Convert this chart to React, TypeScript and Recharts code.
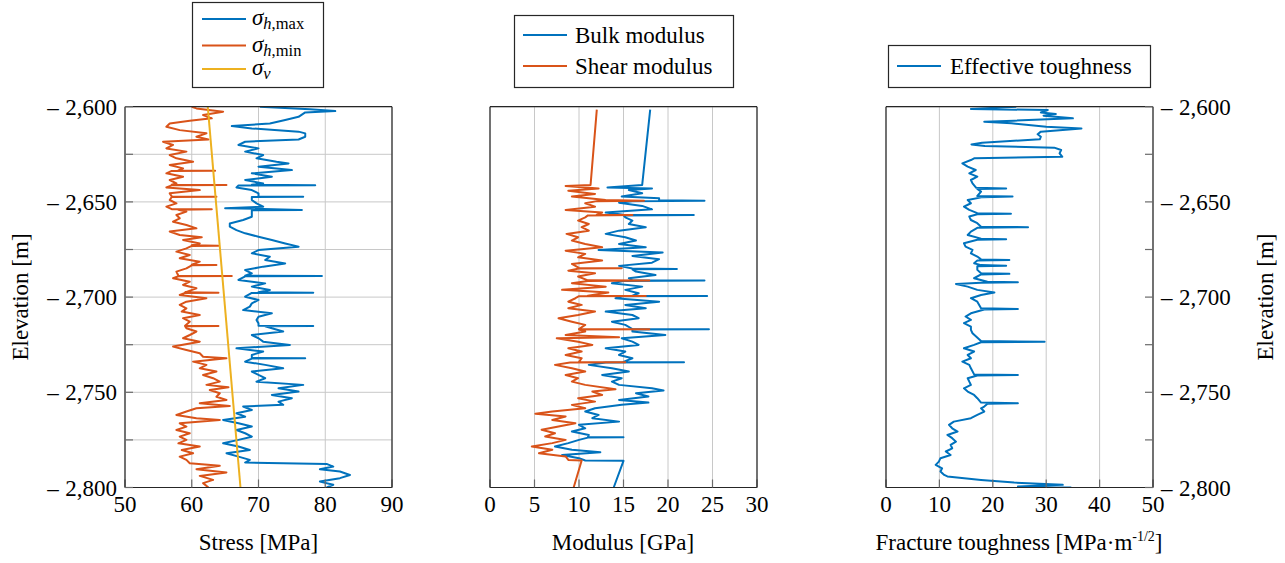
import React from 'react';
import { LineChart, Line, XAxis, YAxis, CartesianGrid } from 'recharts';

const FONT = '"Liberation Serif", "Tinos", "Times New Roman", "Noto Serif", "DejaVu Serif", serif';
const BLUE = '#0072BD';
const ORANGE = '#D95319';
const YELLOW = '#EDB120';
const GRID = '#c8c8c8';
const FRAME = '#262626';
const TICK = '#6a6a6a';

// ---------- tick values ----------
const elevationTicks = [-2800, -2775, -2750, -2725, -2700, -2675, -2650, -2625, -2600];
const stressTicks = [50, 60, 70, 80, 90];
const modulusTicks = [0, 5, 10, 15, 20, 25, 30];
const toughnessTicks = [0, 10, 20, 30, 40, 50];

// ---------- series: [elevation (m), value] ----------
const sigmaHmax: [number, number][] = [
  [-2600, 70.2], [-2601.4, 77.7], [-2602.3, 81.5], [-2603, 77], [-2605.3, 76], [-2607, 74], [-2608.8, 71.7],
  [-2610.2, 66], [-2611.4, 69], [-2613.1, 76], [-2614, 77], [-2615.8, 77], [-2617.2, 76], [-2618.4, 68],
  [-2620.1, 67], [-2621.9, 70], [-2623.6, 68], [-2625.4, 70.7], [-2627.1, 69.7], [-2628.9, 72.7], [-2629.8, 74.5],
  [-2631.5, 70], [-2633.3, 75], [-2635, 69], [-2636.8, 72], [-2638.5, 68], [-2640.3, 70.7], [-2641, 69],
  [-2641.2, 78.5], [-2641.4, 67], [-2642.4, 66.7], [-2643.8, 69], [-2645.5, 70], [-2647.1, 70], [-2647.25, 76.7],
  [-2647.4, 69], [-2649, 69], [-2650.8, 69.7], [-2652.5, 70.7], [-2653.3, 65], [-2654.2, 76.5], [-2654.4, 69],
  [-2656, 69], [-2657.8, 69], [-2659.5, 67.7], [-2661.3, 65.7], [-2663, 65.7], [-2664.8, 66.7], [-2666.5, 68],
  [-2668.3, 70], [-2670, 72], [-2671.8, 74], [-2673.5, 76], [-2675.3, 70], [-2677, 69], [-2678.8, 71.7],
  [-2680.5, 71], [-2682.3, 74], [-2684, 70.7], [-2685.8, 68], [-2687.5, 69], [-2688.8, 68], [-2688.9, 79.5],
  [-2689.1, 68], [-2691, 67], [-2692.8, 71], [-2694.5, 69], [-2696.3, 71.7], [-2697.5, 70], [-2697.65, 78.2],
  [-2697.8, 69], [-2699.8, 68], [-2701.5, 70], [-2703.3, 69], [-2705, 68.7], [-2706.8, 67.7], [-2708.5, 72],
  [-2710.3, 70], [-2712, 69.7], [-2713.8, 70], [-2715, 70], [-2715.15, 78.2], [-2715.3, 71], [-2716.4, 72],
  [-2718.1, 73.7], [-2719.9, 69], [-2721.6, 70], [-2723.4, 70.7], [-2725.1, 74.7], [-2726.9, 66.7], [-2728.6, 70.7],
  [-2730.4, 69], [-2732, 69], [-2732.1, 77], [-2732.3, 69], [-2733.9, 68], [-2735.6, 71], [-2737.4, 73.7],
  [-2739.1, 69], [-2740.9, 70], [-2742.6, 71], [-2744.4, 69.7], [-2746.1, 76.7], [-2747.9, 73], [-2749.6, 76],
  [-2751.4, 72], [-2753.1, 75], [-2754.9, 73], [-2756.6, 73.7], [-2757.5, 67.7], [-2759.3, 69], [-2761, 66.7],
  [-2762.8, 68], [-2764.5, 64.7], [-2766.3, 67], [-2768, 69], [-2769.8, 66.7], [-2771.5, 68], [-2773.3, 69],
  [-2775, 67], [-2776.8, 64.7], [-2778.5, 67], [-2780.3, 68.7], [-2782, 65.2], [-2783.8, 67], [-2785.5, 68.7],
  [-2786.9, 68], [-2787.6, 80.2], [-2789, 81.2], [-2790.4, 79.2], [-2791.6, 82.2], [-2793.4, 83.7], [-2795.1, 82.2],
  [-2796.9, 79.2], [-2798.6, 81.2], [-2800, 80.2],
];

const sigmaHmin: [number, number][] = [
  [-2600, 60], [-2600.9, 60.7], [-2602.6, 64.7], [-2604.4, 61.7], [-2606.1, 63], [-2607.4, 59.7], [-2608.8, 56.7],
  [-2610.5, 56.2], [-2612.3, 58.2], [-2614, 62.2], [-2615.8, 60.7], [-2617.2, 62.5], [-2618.4, 55.7], [-2620.1, 57.2],
  [-2621.9, 56.2], [-2623.6, 59.2], [-2625.4, 56.7], [-2627.1, 57.7], [-2628.9, 60.2], [-2630.6, 56.7], [-2632.4, 58.7],
  [-2633.5, 58], [-2633.6, 63.5], [-2633.75, 57], [-2635, 56.2], [-2636.8, 58.7], [-2638.5, 56.7], [-2640.3, 57.7],
  [-2641, 57], [-2641.1, 65.2], [-2641.3, 57], [-2642.4, 56.2], [-2643.8, 61.2], [-2645.5, 56.7], [-2647.1, 57],
  [-2647.25, 63.7], [-2647.4, 57], [-2649, 56.7], [-2650.8, 57.7], [-2652.5, 56.2], [-2653.8, 57], [-2653.9, 63],
  [-2654.1, 58], [-2655.1, 59.2], [-2656.9, 57.7], [-2658.6, 58.2], [-2660.4, 57.2], [-2662.1, 59.2], [-2663.9, 60.7],
  [-2665.6, 56.7], [-2667.4, 58.2], [-2668.6, 61.5], [-2670, 58.7], [-2671.8, 61.2], [-2672.8, 60], [-2673, 64],
  [-2673.1, 60], [-2674.4, 59.2], [-2676.1, 57.7], [-2677.9, 59.7], [-2679.6, 58.2], [-2681.4, 61.2], [-2683, 60],
  [-2683.1, 63.7], [-2683.3, 60], [-2684.9, 59.2], [-2686.6, 57.7], [-2688.8, 58], [-2688.9, 66], [-2689.05, 58],
  [-2690.1, 57.2], [-2691.9, 59.7], [-2693.6, 58.7], [-2695.4, 60.7], [-2697.5, 59], [-2697.65, 64], [-2697.8, 59],
  [-2698.9, 58.2], [-2700.6, 62.2], [-2702.4, 59.2], [-2704.1, 58.2], [-2705.9, 59.2], [-2707.6, 58.5], [-2709.4, 61.2],
  [-2711.1, 58.7], [-2712.9, 59.7], [-2715, 59], [-2715.15, 64], [-2715.3, 59], [-2716.4, 59.2], [-2718.1, 60.7],
  [-2719.9, 59.7], [-2721.6, 58.7], [-2723.4, 61.2], [-2726, 57.2], [-2727.8, 59.2], [-2729.5, 61.2], [-2731.3, 61.7],
  [-2732.1, 65.2], [-2733.9, 60.2], [-2735.6, 62.2], [-2737.4, 61.2], [-2739.1, 63.7], [-2740.9, 61.7], [-2742.6, 63.2],
  [-2744.4, 64.2], [-2746.1, 62.2], [-2747.4, 65.5], [-2748.8, 62.7], [-2750.5, 64.2], [-2752.3, 63.7], [-2754, 65.2],
  [-2755.8, 61.2], [-2757.2, 65.7], [-2758.4, 60.7], [-2760.1, 59.2], [-2761.9, 57.7], [-2763.6, 60.7], [-2764.5, 64.2],
  [-2766.3, 58.2], [-2768, 59.2], [-2769.8, 57.7], [-2771.5, 59.7], [-2773.3, 58.2], [-2775, 59.2], [-2776.8, 58],
  [-2778.5, 61.2], [-2780.3, 58.5], [-2782, 60.2], [-2783.8, 58.2], [-2785.5, 59.2], [-2787.3, 59.7], [-2788.6, 64.2],
  [-2790.4, 60.7], [-2792.1, 65.2], [-2793.9, 61.2], [-2796, 63.2], [-2797.7, 61.7], [-2800, 62.5],
];

const sigmaV: [number, number][] = [[-2600, 62.4], [-2800, 67.3]];

const bulkModulus: [number, number][] = [
  [-2601.5, 18], [-2641.1, 17.1], [-2642.4, 13.2], [-2642.9, 18.2], [-2643.8, 15.6], [-2645.5, 17.1], [-2647.2, 14.8],
  [-2648.1, 19], [-2649.1, 19], [-2649.34, 24.1], [-2649.6, 16], [-2650.4, 14.5], [-2652.1, 17.1], [-2653.9, 18.2],
  [-2655.6, 13], [-2656.7, 15], [-2656.87, 22.9], [-2657.1, 15], [-2658.1, 15.2], [-2659.8, 16], [-2661.6, 15.6],
  [-2663.3, 17.5], [-2665.1, 14.5], [-2666.8, 13], [-2668.6, 15.2], [-2670.3, 16.4], [-2672.1, 14.5], [-2673.8, 17.5],
  [-2675.2, 12.2], [-2676.6, 19.4], [-2678.4, 16], [-2680.1, 19], [-2681.9, 18.2], [-2683.6, 14.5], [-2685, 16],
  [-2685.2, 21], [-2685.4, 16], [-2686.6, 16.4], [-2688.4, 18.6], [-2690.1, 15.6], [-2691.2, 16], [-2691.34, 24.1],
  [-2691.5, 15], [-2692.7, 13.7], [-2694.5, 17.1], [-2696.2, 15.2], [-2698, 16.7], [-2699.25, 16], [-2699.4, 24.4],
  [-2699.55, 15], [-2700.6, 14.1], [-2702.4, 19], [-2704.1, 15.2], [-2705.9, 17.5], [-2707.6, 13], [-2709.4, 16],
  [-2711.1, 16.7], [-2712.9, 13.7], [-2714.6, 15.2], [-2716.75, 16], [-2716.9, 24.6], [-2717.05, 16], [-2718.1, 16],
  [-2719.9, 19.7], [-2721.6, 14.8], [-2723.4, 16], [-2725.1, 16.7], [-2726.9, 13], [-2728.6, 15.2], [-2730.4, 14.5],
  [-2732.1, 16], [-2734.05, 15], [-2734.2, 21.8], [-2734.35, 13], [-2735.6, 11.1], [-2737.4, 13.7], [-2739.1, 15.6],
  [-2740.9, 12.6], [-2742.6, 14.8], [-2744.4, 13.7], [-2746.1, 14.5], [-2747.9, 18.2], [-2749.1, 19.5], [-2750.5, 16.4],
  [-2752.2, 17.8], [-2754, 14.5], [-2755.4, 17.8], [-2756.6, 14.8], [-2758.4, 11.8], [-2760.1, 10.7], [-2761.9, 12.2],
  [-2763.6, 11.5], [-2765.4, 14.5], [-2767.1, 10], [-2768.9, 10.7], [-2770.6, 9.2], [-2772.4, 11.1], [-2773.5, 11],
  [-2773.6, 15], [-2773.8, 11], [-2775, 10], [-2776.7, 8.8], [-2778.5, 7.3], [-2780.2, 9.2], [-2781.5, 12.4],
  [-2782.9, 8.1], [-2784.6, 10], [-2785.8, 10.7], [-2786, 15], [-2800, 13.9],
];

const shearModulus: [number, number][] = [
  [-2601.5, 12], [-2641.1, 11.3], [-2641.6, 8.5], [-2642.9, 12.2], [-2644.1, 8.8], [-2645.8, 11.8], [-2647.2, 9.2],
  [-2649, 13], [-2649.34, 17.3], [-2649.6, 12], [-2650.7, 10.7], [-2652.5, 11.8], [-2654.2, 8.5], [-2655.6, 12.6],
  [-2656.7, 12], [-2656.87, 16], [-2657.1, 11], [-2658.1, 10.7], [-2659.8, 9.9], [-2661.6, 11.1], [-2663.3, 10.3],
  [-2665.1, 11.1], [-2666.8, 8.6], [-2668.6, 9.9], [-2670.3, 9.2], [-2672.1, 10.7], [-2673.8, 12.6], [-2675.6, 8.5],
  [-2677.3, 10.7], [-2679.1, 9.9], [-2680.8, 12.6], [-2682.6, 9.2], [-2684.7, 10], [-2684.86, 14.8], [-2685, 10],
  [-2686.1, 8.8], [-2687.5, 11.8], [-2689.2, 9.9], [-2691.2, 11], [-2691.34, 17.9], [-2691.5, 11], [-2692.7, 9.2],
  [-2694.5, 13], [-2696.2, 8.1], [-2697.6, 13.3], [-2699.25, 11], [-2699.4, 17.5], [-2699.55, 10], [-2700.6, 9.6],
  [-2702.4, 8.8], [-2704.1, 10.3], [-2705.9, 8.8], [-2707.6, 11.8], [-2709.4, 9.9], [-2711.1, 7.7], [-2712.9, 9.2],
  [-2714.6, 10.7], [-2716.75, 10], [-2716.9, 17.9], [-2717.05, 10], [-2718.1, 10.7], [-2719.9, 8.5], [-2721.1, 14.5],
  [-2721.6, 7.5], [-2723.4, 9.9], [-2725.1, 11.5], [-2726.9, 8.8], [-2728.6, 10.3], [-2730.4, 8.5], [-2732.1, 10.3],
  [-2734.05, 10], [-2734.2, 15.2], [-2734.35, 9], [-2735.6, 7.3], [-2737.4, 9.2], [-2739.1, 10.7], [-2740.9, 8.5],
  [-2742.6, 9.9], [-2744.4, 9.2], [-2746.1, 10.7], [-2748.4, 14.1], [-2749.6, 11.5], [-2751.4, 12.6], [-2753.1, 9.9],
  [-2754.9, 11.8], [-2756.6, 9.2], [-2758.4, 10.7], [-2760.1, 7], [-2761.3, 5.1], [-2762.7, 8.5], [-2764.5, 7],
  [-2766.2, 9.6], [-2768, 7.7], [-2769.7, 5.8], [-2771.5, 7.3], [-2773.2, 6.2], [-2775, 8.5], [-2776.7, 7],
  [-2778.5, 4.7], [-2780.2, 7], [-2782, 5.5], [-2783.7, 8.5], [-2785.5, 8.8], [-2785.8, 10.3], [-2800, 9.4],
];

const effectiveToughness: [number, number][] = [
  [-2600, 24.4], [-2601.2, 15.9], [-2601.75, 30.3], [-2603, 29], [-2603.85, 31.8], [-2604.7, 29.5], [-2606.1, 35],
  [-2607.35, 24], [-2607.9, 18.4], [-2608.75, 23.5], [-2610.5, 30], [-2611.4, 36.6], [-2613.1, 29], [-2614.5, 28.4],
  [-2615.75, 29], [-2617.15, 28.8], [-2618.9, 18], [-2619.8, 16], [-2620.65, 18.5], [-2621.5, 31.5], [-2622.75, 32.8],
  [-2624.5, 32.5], [-2626.25, 33], [-2627.1, 16.5], [-2628, 15.9], [-2629.75, 14.3], [-2631.5, 15.3], [-2633.25, 16.8],
  [-2635, 15.6], [-2636.75, 17.1], [-2638.5, 15.9], [-2640.25, 16.2], [-2642.6, 16.9], [-2642.9, 22.5], [-2643.2, 17.1],
  [-2644.6, 17.8], [-2646.9, 17.1], [-2647.2, 23.7], [-2647.5, 18.1], [-2649, 15.3], [-2650.7, 15.9], [-2652.5, 14.6],
  [-2654.2, 15.6], [-2655.9, 17.1], [-2656.2, 23.4], [-2656.5, 17.1], [-2657.7, 15.6], [-2659.5, 15.9], [-2661.2, 17.1],
  [-2663, 17.8], [-2663.3, 26.6], [-2663.6, 17.1], [-2665.6, 15.9], [-2667.4, 15.3], [-2669.3, 17.8], [-2669.6, 22.5],
  [-2669.9, 17.1], [-2671.7, 14.6], [-2673.5, 14.9], [-2675.2, 16.2], [-2677, 15.9], [-2678.7, 17.1], [-2680.2, 17.8],
  [-2680.5, 23.1], [-2680.8, 17.1], [-2682.2, 16.5], [-2683.2, 17.8], [-2683.5, 22.5], [-2683.8, 17.1], [-2685.7, 17.1],
  [-2687.5, 17.8], [-2687.8, 23.1], [-2688.1, 17.8], [-2690.1, 16.5], [-2691.9, 19], [-2692.2, 24.7], [-2692.5, 17.8],
  [-2693.1, 13.1], [-2694.5, 15.3], [-2696.2, 17.1], [-2697.6, 20.3], [-2698.9, 17.8], [-2700.6, 15.9], [-2702.4, 17.1],
  [-2705.9, 17.8], [-2706.2, 24.7], [-2706.5, 18.4], [-2708.5, 15.9], [-2710.2, 14.9], [-2712, 15.9], [-2713.7, 14.6],
  [-2715.5, 15.9], [-2717.2, 15.9], [-2719, 16.2], [-2723.1, 17.8], [-2723.4, 29.7], [-2723.7, 17.8], [-2725.1, 16.5],
  [-2726.9, 14.6], [-2728.6, 16.5], [-2730.4, 15.3], [-2732.1, 15.9], [-2733.9, 14.3], [-2735.6, 15.6], [-2737.4, 15.9],
  [-2740.6, 16.5], [-2740.9, 24.7], [-2741.2, 17.1], [-2742.6, 15.3], [-2744.4, 15.6], [-2746.1, 15.9], [-2747.9, 14.6],
  [-2749.6, 15.3], [-2751.4, 16.5], [-2753.1, 17.1], [-2755.4, 17.8], [-2755.7, 24.7], [-2756, 19], [-2757.5, 18.4],
  [-2758.4, 17.8], [-2760.1, 18.4], [-2761.9, 17.1], [-2763.6, 15.9], [-2765.4, 12.7], [-2767.1, 11.8], [-2768.9, 12.4],
  [-2770.6, 13.4], [-2772.4, 11.5], [-2774.1, 12.4], [-2775.9, 13.1], [-2777.6, 12.1], [-2779.4, 12.4], [-2781.1, 11.2],
  [-2782.9, 12.1], [-2784.6, 10.2], [-2786.4, 9.9], [-2788.1, 9.3], [-2789.9, 10.5], [-2791.6, 10.2], [-2793.4, 10.9],
  [-2794.2, 11.5], [-2796, 17.8], [-2797.4, 24], [-2798.6, 33.1], [-2799.5, 24.7], [-2800, 34.7],
];

// ---------- layout ----------
const AXW = 100;
const PLOT_TOP = 106.7;
const PLOT_BOTTOM = 487.5;
const PLOT_W = 267;
const XAX_H = 60;
const TICK_LEN = 8;
const H = 563;

const fmtElev = (v: number) => {
  if (v % 50 !== 0) return '';
  const a = Math.abs(v);
  return '\u2013\u2009\u200A' + Math.floor(a / 1000) + ',' + String(a % 1000).padStart(3, '0');
};

type Series = { key: string; color: string; data: [number, number][] };

function Panel(props: {
  plotLeft: number;
  xDomain: [number, number];
  xTicks: number[];
  series: Series[];
  leftLabels: boolean;
  rightLabels: boolean;
}) {
  const { plotLeft, xDomain, xTicks, series, leftLabels, rightLabels } = props;
  const tickStyle = { fontSize: 23, fill: '#000', style: { fontFamily: FONT } };
  const axisLine = { stroke: FRAME, strokeWidth: 1.2 };
  const tickLine = { stroke: TICK, strokeWidth: 1.2 };
  const toRows = (d: [number, number][]) => d.map(([e, v]) => ({ e, v }));
  return (
    <div style={{ position: 'absolute', left: plotLeft - AXW, top: 0 }}>
      <LineChart
        width={PLOT_W + 2 * AXW}
        height={H}
        layout="vertical"
        margin={{ top: PLOT_TOP - 1, right: 0, bottom: H - PLOT_BOTTOM - XAX_H, left: 0 }}
        style={{ fontFamily: FONT }}
      >
        <CartesianGrid stroke={GRID} strokeWidth={1} />
        <XAxis
          type="number"
          domain={xDomain}
          ticks={xTicks}
          allowDataOverflow
          interval={0}
          orientation="bottom"
          height={XAX_H}
          tickSize={-TICK_LEN}
          tickMargin={TICK_LEN + 8.5}
          tick={tickStyle}
          tickLine={tickLine}
          axisLine={axisLine}
        />
        <XAxis
          xAxisId="top"
          type="number"
          domain={xDomain}
          ticks={xTicks}
          allowDataOverflow
          interval={0}
          orientation="top"
          height={1}
          tickSize={-TICK_LEN}
          tick={false}
          tickLine={tickLine}
          axisLine={axisLine}
        />
        <YAxis
          type="number"
          dataKey="e"
          reversed
          domain={[-2800, -2600]}
          ticks={elevationTicks}
          allowDataOverflow
          interval={0}
          orientation="left"
          width={AXW}
          tickSize={-TICK_LEN}
          tickMargin={TICK_LEN + 8}
          tickFormatter={fmtElev}
          tick={leftLabels ? tickStyle : false}
          tickLine={tickLine}
          axisLine={axisLine}
        />
        <YAxis
          yAxisId="right"
          type="number"
          dataKey="e"
          reversed
          domain={[-2800, -2600]}
          ticks={elevationTicks}
          allowDataOverflow
          interval={0}
          orientation="right"
          width={AXW}
          tickSize={-TICK_LEN}
          tickMargin={TICK_LEN + 8}
          tickFormatter={fmtElev}
          tick={rightLabels ? tickStyle : false}
          tickLine={tickLine}
          axisLine={axisLine}
        />
        {/* invisible series bound to the mirror axes so that they get drawn */}
        <Line
          xAxisId="top"
          yAxisId="right"
          data={toRows(series[0].data)}
          dataKey="v"
          stroke="none"
          strokeWidth={0}
          dot={false}
          activeDot={false}
          legendType="none"
          isAnimationActive={false}
        />
        {series.map((s) => (
          <Line
            key={s.key}
            data={toRows(s.data)}
            dataKey="v"
            type="linear"
            stroke={s.color}
            strokeWidth={2}
            strokeLinejoin="round"
            dot={false}
            activeDot={false}
            isAnimationActive={false}
          />
        ))}
      </LineChart>
    </div>
  );
}

function LegendRow(props: { x: number; y: number; color: string; children: React.ReactNode }) {
  const { x, y, color, children } = props;
  return (
    <g>
      <line x1={x} x2={x + 44} y1={y} y2={y} stroke={color} strokeWidth={2} />
      {children}
    </g>
  );
}

function Overlay() {
  const t = { fill: '#000' } as const;
  return (
    <svg
      width={1285}
      height={H}
      style={{ position: 'absolute', left: 0, top: 0, pointerEvents: 'none', fontFamily: FONT }}
    >
      {/* legend 1 */}
      <rect x={192.5} y={2.5} width={131} height={85} fill="#fff" stroke={FRAME} strokeWidth={1.2} />
      <LegendRow x={202} y={19} color={BLUE}>
        <text x={252} y={25} fontSize={23} fontStyle="italic" {...t}>
          σ
          <tspan dy={4} fontSize={16.5}>h</tspan>
          <tspan fontSize={16.5} fontStyle="normal">,max</tspan>
        </text>
      </LegendRow>
      <LegendRow x={202} y={45.5} color={ORANGE}>
        <text x={252} y={51.5} fontSize={23} fontStyle="italic" {...t}>
          σ
          <tspan dy={4} fontSize={16.5}>h</tspan>
          <tspan fontSize={16.5} fontStyle="normal">,min</tspan>
        </text>
      </LegendRow>
      <LegendRow x={202} y={69} color={YELLOW}>
        <text x={252} y={75} fontSize={23} fontStyle="italic" {...t}>
          σ
          <tspan dy={4} fontSize={16.5}>v</tspan>
        </text>
      </LegendRow>

      {/* legend 2 */}
      <rect x={514.5} y={15.5} width={219} height={72} fill="#fff" stroke={FRAME} strokeWidth={1.2} />
      <LegendRow x={523} y={35} color={BLUE}>
        <text x={575} y={42.5} fontSize={23} {...t}>Bulk modulus</text>
      </LegendRow>
      <LegendRow x={523} y={66} color={ORANGE}>
        <text x={575} y={73.5} fontSize={23} {...t}>Shear modulus</text>
      </LegendRow>

      {/* legend 3 */}
      <rect x={888.5} y={45.5} width={262} height={42} fill="#fff" stroke={FRAME} strokeWidth={1.2} />
      <LegendRow x={897} y={66} color={BLUE}>
        <text x={950} y={73.5} fontSize={23} {...t}>Effective toughness</text>
      </LegendRow>

      {/* axis titles */}
      <text x={258.5} y={550} fontSize={23} textAnchor="middle" {...t}>Stress [MPa]</text>
      <text x={623} y={550} fontSize={23} textAnchor="middle" {...t}>Modulus [GPa]</text>
      <text x={1019} y={550} fontSize={23} textAnchor="middle" {...t}>
        Fracture toughness [MPa·m
        <tspan dy={-9} fontSize={14}>-1/2</tspan>
        <tspan dy={9}>]</tspan>
      </text>
      <text x={28} y={297} fontSize={23} textAnchor="middle" transform="rotate(-90 28 297)" {...t}>
        Elevation [m]
      </text>
      <text x={1273} y={297} fontSize={23} textAnchor="middle" transform="rotate(-90 1273 297)" {...t}>
        Elevation [m]
      </text>
    </svg>
  );
}

export default function App() {
  return (
    <div
      style={{
        position: 'absolute',
        left: 0,
        top: 0,
        width: 1285,
        height: H,
        background: '#fff',
        overflow: 'hidden',
        fontFamily: FONT,
      }}
    >
      <Panel
        plotLeft={125}
        xDomain={[50, 90]}
        xTicks={stressTicks}
        leftLabels
        rightLabels={false}
        series={[
          { key: 'shmax', color: BLUE, data: sigmaHmax },
          { key: 'shmin', color: ORANGE, data: sigmaHmin },
          { key: 'sv', color: YELLOW, data: sigmaV },
        ]}
      />
      <Panel
        plotLeft={489.5}
        xDomain={[0, 30]}
        xTicks={modulusTicks}
        leftLabels={false}
        rightLabels={false}
        series={[
          { key: 'bulk', color: BLUE, data: bulkModulus },
          { key: 'shear', color: ORANGE, data: shearModulus },
        ]}
      />
      <Panel
        plotLeft={885.5}
        xDomain={[0, 50]}
        xTicks={toughnessTicks}
        leftLabels={false}
        rightLabels
        series={[{ key: 'kic', color: BLUE, data: effectiveToughness }]}
      />
      <Overlay />
    </div>
  );
}
